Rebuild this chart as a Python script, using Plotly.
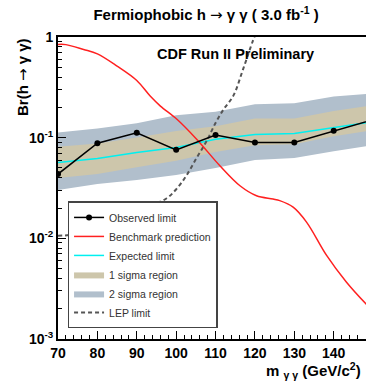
import plotly.graph_objects as go

# ---- data ----
mass = [70, 80, 90, 100, 110, 120, 130, 140, 150]
observed = [0.0435, 0.088, 0.112, 0.0757, 0.106, 0.0896, 0.0896, 0.117, 0.151]
expected = [0.0568, 0.0622, 0.0714, 0.080, 0.0966, 0.1075, 0.110, 0.126, 0.144]
sig1_lo = [0.0397, 0.0435, 0.0507, 0.0589, 0.0719, 0.0843, 0.0862, 0.1035, 0.119]
sig1_hi = [0.0811, 0.0876, 0.1005, 0.1168, 0.130, 0.155, 0.155, 0.184, 0.21]
sig2_lo = [0.0302, 0.0346, 0.0380, 0.0425, 0.0499, 0.0599, 0.0627, 0.0735, 0.084]
sig2_hi = [0.1126, 0.1234, 0.1391, 0.167, 0.181, 0.2146, 0.2196, 0.2557, 0.275]

bench_m = [70, 72, 76.5, 80, 85, 90, 93.4, 96, 100.2, 105.2, 111.1, 116.2, 120.4,
           124.6, 126.3, 129.7, 133.1, 138.2, 143.2, 148.1, 150]
bench_br = [0.843, 0.84, 0.752, 0.68, 0.514, 0.37, 0.259, 0.206, 0.1525, 0.0966, 0.0526,
            0.0333, 0.0265, 0.0246, 0.0237, 0.0204, 0.0145, 0.00676, 0.00368, 0.00225, 0.0019]

lep_m = [70, 73, 76.4, 80, 85, 90, 93.4, 97.6, 100.1, 102.6, 105.2, 107.7, 110, 112,
         114.5, 117, 119.5, 120.5]
lep_br = [0.0106, 0.0108, 0.0115, 0.0128, 0.015, 0.0182, 0.021, 0.025, 0.031, 0.042,
          0.063, 0.092, 0.14, 0.19, 0.26, 0.48, 0.92, 1.15]

x_ticks = [70, 80, 90, 100, 110, 120, 130, 140]
y_tickvals = [0.001, 0.01, 0.1, 1]
y_ticktext = ["10<sup>-3</sup>", "10<sup>-2</sup>", "10<sup>-1</sup>", "1"]

TAN = "#cdc6ab"
BLUE = "#b1bfcc"
FONT = "Liberation Sans"
ARROW = "<span style='font-family:DejaVu Sans;font-weight:normal'>\u2192</span>"

fig = go.Figure()

# 2 sigma band
fig.add_trace(go.Scatter(x=mass, y=sig2_lo, mode="lines", line=dict(width=0),
                         showlegend=False, hoverinfo="skip"))
fig.add_trace(go.Scatter(x=mass, y=sig2_hi, mode="lines", line=dict(width=0),
                         fill="tonexty", fillcolor=BLUE, name="2 sigma region",
                         legendrank=5))
# 1 sigma band
fig.add_trace(go.Scatter(x=mass, y=sig1_lo, mode="lines", line=dict(width=0),
                         showlegend=False, hoverinfo="skip"))
fig.add_trace(go.Scatter(x=mass, y=sig1_hi, mode="lines", line=dict(width=0),
                         fill="tonexty", fillcolor=TAN, name="1 sigma region",
                         legendrank=4))
# expected
fig.add_trace(go.Scatter(x=mass, y=expected, mode="lines",
                         line=dict(color="#00f0f0", width=1.5),
                         name="Expected limit", legendrank=3))
# LEP
fig.add_trace(go.Scatter(x=lep_m, y=lep_br, mode="lines", line_shape="spline",
                         line=dict(color="#555555", width=2, dash="4px,3px"),
                         name="LEP limit", legendrank=6))
# benchmark
fig.add_trace(go.Scatter(x=bench_m, y=bench_br, mode="lines", line_shape="spline",
                         line=dict(color="#ff2020", width=1.5),
                         name="Benchmark prediction", legendrank=2))
# observed
fig.add_trace(go.Scatter(x=mass, y=observed, mode="lines+markers",
                         line=dict(color="black", width=1.5),
                         marker=dict(color="black", size=6),
                         name="Observed limit", legendrank=1))

fig.update_layout(
    width=366, height=385,
    margin=dict(l=58, r=0, t=37, b=46),
    paper_bgcolor="white", plot_bgcolor="white",
    font=dict(family=FONT, color="black"),
    title=dict(text="Fermiophobic h " + ARROW + " \u03b3 \u03b3 ( 3.0 fb<sup>-1</sup> )",
               x=0.563, xanchor="center", xref="container",
               y=0.961, yanchor="middle", yref="container",
               font=dict(family=FONT, size=15, weight="bold", color="black")),
    legend=dict(x=0.031, y=0.035, xanchor="left", yanchor="bottom",
                bgcolor="white", bordercolor="#444444", borderwidth=1.5,
                font=dict(family=FONT, size=10.5, color="#333333"),
                traceorder="normal", tracegroupgap=0, itemwidth=30),
    showlegend=True,
)

fig.update_xaxes(
    range=[70, 148.2], tickvals=x_ticks, ticks="inside", ticklen=8, tickwidth=1,
    tickcolor="black", showline=True, linecolor="black", linewidth=2, mirror=True,
    showgrid=False, zeroline=False,
    tickfont=dict(family=FONT, size=14, weight="bold", color="black"),
    minor=dict(dtick=2, ticks="inside", ticklen=4, tickcolor="black", showgrid=False),
)
fig.update_yaxes(
    type="log", range=[-3, 0], tickvals=y_tickvals, ticktext=y_ticktext,
    ticks="inside", ticklen=8, tickwidth=1, tickcolor="black",
    showline=True, linecolor="black", linewidth=2, showgrid=False, zeroline=False,
    tickfont=dict(family=FONT, size=14, weight="bold", color="black"),
    minor=dict(ticks="inside", ticklen=4, tickcolor="black", showgrid=False,
               tickvals=[v * k for v in [0.001, 0.01, 0.1] for k in range(2, 10)]),
)

fig.add_annotation(text="CDF Run II Preliminary", xref="paper", yref="paper",
                   x=(235 - 58) / 308, y=(339 - 54) / 302, xanchor="center", yanchor="middle",
                   showarrow=False,
                   font=dict(family=FONT, size=14.5, weight="bold", color="black"))
fig.add_annotation(text="Br(h " + ARROW + " \u03b3 \u03b3)", xref="paper", yref="paper",
                   x=(23 - 58) / 308, y=(339 - 77) / 302, xanchor="center", yanchor="middle",
                   textangle=-90, showarrow=False,
                   font=dict(family=FONT, size=15, weight="bold", color="black"))
fig.add_annotation(text="m <sub>\u03b3 \u03b3</sub> (GeV/c<sup>2</sup>)", xref="paper", yref="paper",
                   x=(363 - 58) / 308, y=(339 - 370) / 302, xanchor="right", yanchor="middle",
                   showarrow=False,
                   font=dict(family=FONT, size=15, weight="bold", color="black"))

fig.write_html("out.html")
